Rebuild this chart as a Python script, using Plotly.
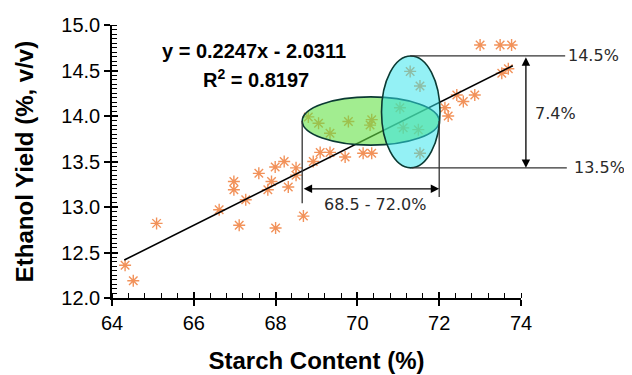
import plotly.graph_objects as go

# ---- data ----
starch = [64.32, 64.52, 65.09, 66.62, 66.98, 66.98, 67.11, 67.27, 67.59, 67.81,
          67.90, 67.99, 68.00, 68.21, 68.31, 68.50, 68.50, 68.68, 68.92, 69.09,
          69.33, 69.70, 70.14, 70.35, 68.80, 69.05, 69.33, 69.78, 70.31, 70.35,
          71.04, 71.12, 71.49, 71.53, 71.29, 71.53, 72.14, 72.22, 72.43, 72.59,
          72.87, 73.00, 73.49, 73.77, 73.53, 73.69]
ethanol = [12.36, 12.19, 12.82, 12.97, 13.28, 13.19, 12.80, 13.08, 13.37, 13.19,
           13.28, 13.44, 12.77, 13.50, 13.22, 13.43, 13.35, 12.90, 13.50, 13.60,
           13.60, 13.55, 13.59, 13.59, 13.99, 13.92, 13.81, 13.94, 13.90, 13.96,
           14.09, 13.87, 13.85, 13.59, 14.49, 14.33, 14.09, 14.00, 14.23, 14.16,
           14.23, 14.78, 14.78, 14.78, 14.47, 14.52]
slope = 0.2247
intercept = -2.0311
r2 = 0.8197
fit_x = [64.3, 73.8]
fit_y = [slope * v + intercept for v in fit_x]

x_ticks = [64, 66, 68, 70, 72, 74]
y_ticks = [12.0, 12.5, 13.0, 13.5, 14.0, 14.5, 15.0]

# highlighted ranges
starch_range = [68.65, 72.0]      # green ellipse / 68.5 - 72.0%
starch_ell_y = [13.68, 14.21]
yield_range = [13.43, 14.66]      # cyan ellipse / 13.5 - 14.5%
yield_ell_x = [70.59, 72.02]
starch_label = "68.5 - 72.0%"
yield_hi_label = "14.5%"
yield_lo_label = "13.5%"
yield_diff_label = "7.4%"

fig = go.Figure()
fig.add_trace(go.Scatter(
    x=starch, y=ethanol, mode="markers",
    marker=dict(symbol="asterisk-open", size=10, color="#f2925a",
                line=dict(color="#f2925a", width=1.4)),
    showlegend=False))
fig.add_trace(go.Scatter(
    x=fit_x, y=fit_y, mode="lines",
    line=dict(color="black", width=1.6), showlegend=False))
# helper empty trace for overlay axes (crossing ticks)
fig.add_trace(go.Scatter(x=[None], y=[None], xaxis="x2", yaxis="y2",
                         showlegend=False, hoverinfo="skip"))

tickfont = dict(family="Liberation Sans, Arial", size=20, color="black")
titlefont = dict(family="Liberation Sans, Arial", size=24, color="black")
# page body has an 8px default margin: figure is sized so the plot lands in place
fig.update_layout(
    width=624, height=367,
    margin=dict(l=104, r=111, t=17, b=77),
    paper_bgcolor="white", plot_bgcolor="white",
    xaxis=dict(range=[64, 74], tickvals=x_ticks, ticktext=[str(v) for v in x_ticks],
               automargin=False,
               showgrid=False, zeroline=False, showline=True, linecolor="black",
               linewidth=1.5, ticks="outside", ticklen=6, tickwidth=1.5,
               tickcolor="black", tickfont=tickfont,
               minor=dict(dtick=0.4, ticks="inside", ticklen=5, tickwidth=1.2,
                          tickcolor="black"),
               title=dict(text="<b>Starch Content (%)</b>", standoff=19,
                          font=titlefont)),
    yaxis=dict(range=[12, 15], tickvals=y_ticks,
               ticktext=["%.1f" % v for v in y_ticks],
               automargin=False,
               showgrid=False, zeroline=False, showline=True, linecolor="black",
               linewidth=1.5, ticks="outside", ticklen=6, tickwidth=1.5,
               tickcolor="black", tickfont=tickfont,
               minor=dict(dtick=0.05, ticks="inside", ticklen=5, tickwidth=1.2,
                          tickcolor="black"),
               title=dict(text="<b>Ethanol Yield (%, v/v)</b>", standoff=21,
                          font=titlefont)),
    xaxis2=dict(range=[64, 74], overlaying="x", tickvals=x_ticks, automargin=False,
                showticklabels=False, showgrid=False, zeroline=False,
                showline=False, ticks="inside", ticklen=6, tickwidth=1.5,
                tickcolor="black", side="bottom"),
    yaxis2=dict(range=[12, 15], overlaying="y", tickvals=y_ticks, automargin=False,
                showticklabels=False, showgrid=False, zeroline=False,
                showline=False, ticks="inside", ticklen=6, tickwidth=1.5,
                tickcolor="black", side="left"),
)

border = "#0b3a33"
# ellipses
fig.add_shape(type="circle", xref="x", yref="y",
              x0=starch_range[0], x1=starch_range[1],
              y0=starch_ell_y[0], y1=starch_ell_y[1],
              fillcolor="rgba(100,225,70,0.6)", line=dict(color=border, width=1.6))
fig.add_shape(type="circle", xref="x", yref="y",
              x0=yield_ell_x[0], x1=yield_ell_x[1],
              y0=yield_range[0], y1=yield_range[1],
              fillcolor="rgba(50,228,236,0.52)", line=dict(color=border, width=1.6))

ell_cy = (starch_ell_y[0] + starch_ell_y[1]) / 2
line_style = dict(color="#333333", width=1.3)
# vertical guides for starch range
fig.add_shape(type="line", xref="x", yref="y", x0=starch_range[0], x1=starch_range[0],
              y0=ell_cy, y1=13.04, line=line_style)
fig.add_shape(type="line", xref="x", yref="y", x0=starch_range[1], x1=starch_range[1],
              y0=ell_cy, y1=13.11, line=line_style)
# horizontal guides for yield range (extend beyond the plot)
fig.add_shape(type="line", xref="paper", yref="y", x0=0.729, x1=1.108,
              y0=yield_range[1], y1=yield_range[1], line=line_style)
fig.add_shape(type="line", xref="paper", yref="y", x0=0.733, x1=1.112,
              y0=yield_range[0], y1=yield_range[0], line=line_style)

# double arrows
fig.add_annotation(x=starch_range[1], y=13.20, ax=starch_range[0], ay=13.20,
                   xref="x", yref="y", axref="x", ayref="y", text="",
                   showarrow=True, arrowhead=2, arrowside="end+start",
                   arrowsize=1.3, arrowwidth=1.3, arrowcolor="black")
fig.add_annotation(x=1.012, y=yield_range[0], ax=0, ay=-112,
                   xref="paper", yref="y", text="",
                   showarrow=True, arrowhead=2, arrowside="end+start",
                   arrowsize=1.3, arrowwidth=1.3, arrowcolor="black")

labfont = dict(family="DejaVu Sans", size=16, color="#2a2a2a")
fig.add_annotation(x=70.42, y=13.03, xref="x", yref="y", text=starch_label,
                   showarrow=False, font=labfont, xanchor="center", yanchor="middle")
fig.add_annotation(x=1.11, y=yield_range[1], xref="paper", yref="y",
                   text=yield_hi_label, showarrow=False, xanchor="left",
                   yanchor="middle", font=labfont)
fig.add_annotation(x=1.125, y=yield_range[0], xref="paper", yref="y",
                   text=yield_lo_label, showarrow=False, xanchor="left",
                   yanchor="middle", font=labfont)
fig.add_annotation(x=1.03, y=14.03, xref="paper", yref="y",
                   text=yield_diff_label, showarrow=False, xanchor="left",
                   yanchor="middle", font=labfont)

eqfont = dict(family="Liberation Sans, Arial", size=20, color="black")
fig.add_annotation(x=0.346, y=0.905, xref="paper", yref="paper",
                   text="<b>y = %.4fx - %.4f</b>" % (slope, -intercept),
                   showarrow=False, font=eqfont, xanchor="center", yanchor="middle")
fig.add_annotation(x=0.352, y=0.805, xref="paper", yref="paper",
                   text="<b>R<sup>2</sup> = %.4f</b>" % r2,
                   showarrow=False, font=eqfont, xanchor="center", yanchor="middle")

fig.write_html("out.html")
